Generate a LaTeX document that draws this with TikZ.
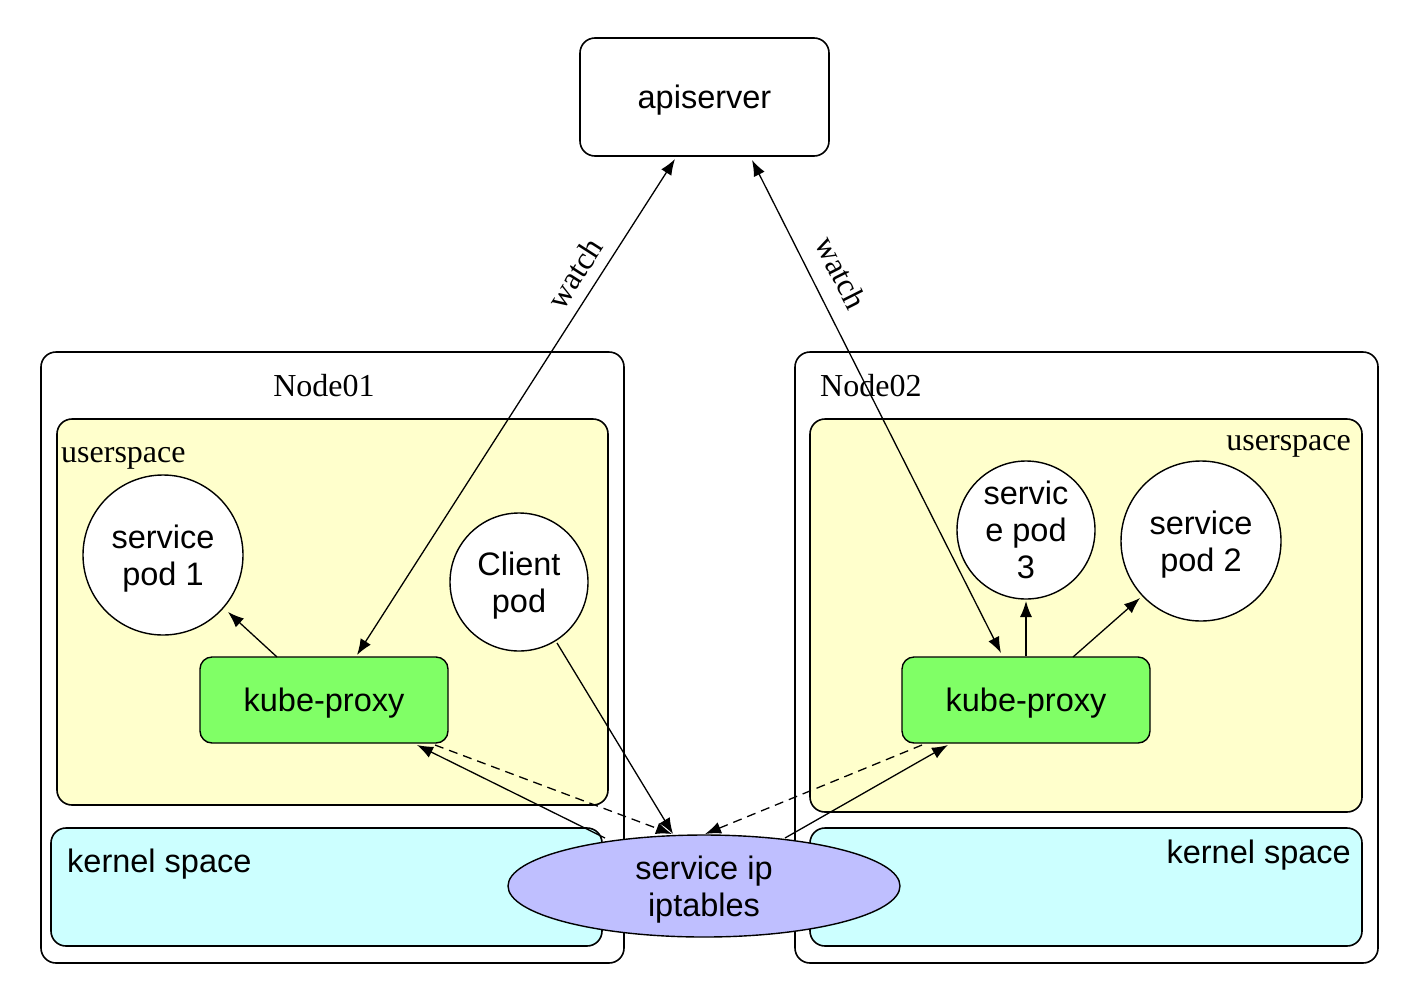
\documentclass[tikz,border=0pt]{standalone}
\usepackage{fontspec}
\setmainfont{Liberation Serif}
\setsansfont{Liberation Sans}
\usetikzlibrary{arrows.meta,shapes.geometric,calc}
\definecolor{userbg}{RGB}{255,255,204}
\definecolor{kernbg}{RGB}{204,255,255}
\definecolor{proxybg}{RGB}{128,255,102}
\definecolor{ipbg}{RGB}{191,191,255}
\tikzset{
  box/.style={draw, line width=1.6pt, rounded corners=15pt, inner sep=0pt},
  sanslab/.style={font=\sffamily\fontsize{32.5}{37}\selectfont, align=center, text depth=0pt},
  seriflab/.style={font=\rmfamily\fontsize{32}{38}\selectfont, inner sep=0pt},
  pod/.style={circle, draw, line width=1.4pt, fill=white, inner sep=0pt, sanslab},
  proxy/.style={draw, line width=1.4pt, rounded corners=12pt, fill=proxybg, minimum width=248pt, minimum height=86pt, inner sep=0pt, sanslab},
  arr/.style={line width=1.3pt, -{Latex[length=16pt,width=12pt]}},
  darr/.style={arr, dashed, dash pattern=on 9pt off 6pt},
  barr/.style={line width=1.3pt, {Latex[length=16pt,width=12pt]}-{Latex[length=16pt,width=12pt]}},
}
\begin{document}
\begin{tikzpicture}[x=1pt,y=-1pt]
\useasboundingbox (0,0) rectangle (1420,988);
% apiserver
\node[box, fill=white, minimum width=249pt, minimum height=118pt, sanslab] (api) at (704.5,97) {apiserver};
% node boxes
\node[box, minimum width=583pt, minimum height=611pt] (n1) at (332.5,657.5) {};
\node[box, minimum width=583pt, minimum height=611pt] (n2) at (1086.5,657.5) {};
\node[seriflab] (n1lab) at (324,386) {Node01};
\node[seriflab, anchor=west] (n2lab) at (820,386) {Node02};
% userspace
\node[box, fill=userbg, minimum width=551pt, minimum height=386pt] (us1) at (332.5,612) {};
\node[box, fill=userbg, minimum width=552pt, minimum height=393pt] (us2) at (1086,615.5) {};
\node[seriflab, anchor=west] (us1lab) at (61,458) {userspace};
\node[seriflab, anchor=east] (us2lab) at (1351,446) {userspace};
% kernel space
\node[box, fill=kernbg, minimum width=551pt, minimum height=118pt] (ks1) at (326.5,887) {};
\node[box, fill=kernbg, minimum width=552pt, minimum height=118pt] (ks2) at (1086,887) {};
\node[sanslab, anchor=west, inner sep=0pt] (ks1lab) at (67,861) {kernel space};
\node[sanslab, anchor=east, inner sep=0pt] (ks2lab) at (1351,852) {kernel space};
% ellipse
\node[ellipse, draw, line width=1.4pt, fill=ipbg, minimum width=392pt, minimum height=102pt, inner sep=0pt, sanslab] (ip) at (704,886) {service ip\\iptables};
% pods
\node[pod, minimum size=160pt] (sp1) at (163,555) {service\\pod 1};
\node[pod, minimum size=138pt] (cp) at (519,582) {Client\\pod};
\node[pod, minimum size=138pt] (sp3) at (1026,530) {servic\\e pod\\3};
\node[pod, minimum size=160pt] (sp2) at (1201,541) {service\\pod 2};
% proxies
\node[proxy] (kp1) at (324,700) {kube-proxy};
\node[proxy] (kp2) at (1026,700) {kube-proxy};
% watch arrows
\draw[barr] ($(kp1.center)+(33,-45)$) -- node[pos=0.745, sloped, above=11pt, seriflab] (w1) {watch} ($(api.center)+(-29.5,62)$);
\draw[barr] ($(api.center)+(47.5,63)$) -- node[pos=0.255, sloped, above=17pt, seriflab] (w2) {watch} ($(kp2.center)+(-25,-47)$);
% proxy to pods
\draw[arr] ($(kp1.center)+(-47,-43)$) -- ($(sp1.center)+(65,57)$);
\draw[arr] (kp2.north) -- ($(sp3.center)+(0,71)$);
\draw[arr] ($(kp2.center)+(47,-43)$) -- ($(sp2.center)+(-61,57)$);
% client pod to ip
\draw[arr] ($(cp.center)+(38,61)$) -- ($(ip.center)+(-31,-52)$);
% dashed proxies to ip
\draw[darr] ($(kp1.center)+(111,45)$) -- ($(ip.center)+(-32,-52)$);
\draw[darr] ($(kp2.center)+(-104,45)$) -- ($(ip.center)+(1,-52)$);
% ip to proxies
\draw[arr] ($(ip.center)+(-99,-48)$) -- ($(kp1.center)+(93,45)$);
\draw[arr] ($(ip.center)+(81,-48)$) -- ($(kp2.center)+(-78,45)$);
\end{tikzpicture}
\end{document}
